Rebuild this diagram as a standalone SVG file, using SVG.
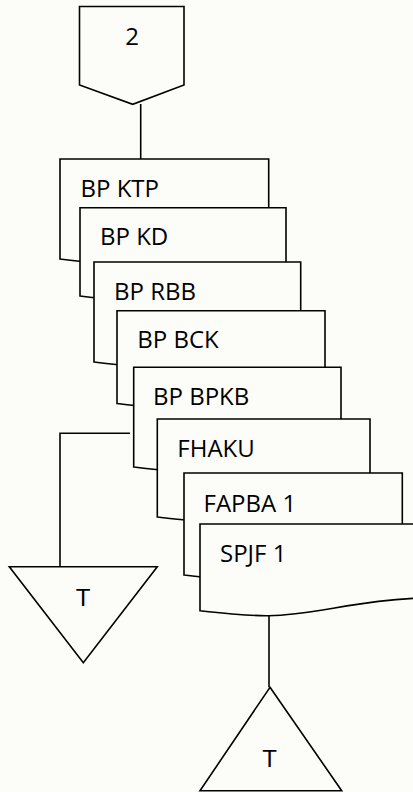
<svg xmlns="http://www.w3.org/2000/svg" width="413" height="792" viewBox="0 0 413 792">
  <defs>
    <style>
      .shape { fill: #fcfdf8; stroke: #000; stroke-width: 1.6; stroke-linejoin: miter; }
      .wire { fill: none; stroke: #000; stroke-width: 1.6; }
      .doc { font-family: "Open Sans", "Liberation Sans", sans-serif; font-size: 24px; fill: #000; }
      .tri { font-family: "Liberation Sans", Arial, sans-serif; font-size: 24px; fill: #000; text-anchor: middle; }
    </style>
  </defs>
  <rect x="0" y="0" width="413" height="792" fill="#fcfdf8"/>

  <!-- connectors -->
  <g id="connectors">
    <path class="wire" d="M140.7,104 V159"/>
    <path class="wire" d="M130,433.3 H60 V566.7"/>
    <path class="wire" d="M269,616 V687.3"/>
  </g>

  <!-- off-page connector "2" -->
  <g id="offpage-2">
    <path class="shape" d="M79.5,6.5 H184 V85 L132.7,104.3 L79.5,85 Z"/>
    <text class="doc" x="132" y="45" text-anchor="middle" font-size="25">2</text>
  </g>

  <!-- stacked documents, back to front -->
  <g id="doc-bp-ktp">
    <path class="shape" d="M60,159 H268.7 V246 C206.1,247 164.4,263.5 122.6,264 C105.9,264.5 85,262 60,259 Z"/>
    <text class="doc" x="80.5" y="196.7">BP KTP</text>
  </g>
  <g id="doc-bp-kd">
    <path class="shape" d="M80,207.7 H286 V283 C224.2,284 183,300.5 141.8,301 C125.3,301.5 104.7,299 80,296 Z"/>
    <text class="doc" x="100" y="244.5">BP KD</text>
  </g>
  <g id="doc-bp-rbb">
    <path class="shape" d="M94,262 H300.7 V349 C238.7,350 197.4,366.5 156,367 C139.5,367.5 118.8,365 94,362 Z"/>
    <text class="doc" x="114" y="300">BP RBB</text>
  </g>
  <g id="doc-bp-bck">
    <path class="shape" d="M117,310.7 H325 V390.5 C262.6,391.5 221,408 179.4,408.5 C162.8,409 142,406.5 117,403.5 Z"/>
    <text class="doc" x="137.3" y="348.3">BP BCK</text>
  </g>
  <g id="doc-bp-bpkb">
    <path class="shape" d="M133.7,367.3 H341 V454 C278.8,455 237.4,471.5 195.9,472 C179.3,472.5 158.6,470 133.7,467 Z"/>
    <text class="doc" x="153" y="405">BP BPKB</text>
  </g>
  <g id="doc-fhaku">
    <path class="shape" d="M157.3,419 H370 V504 C306.2,505 263.7,521.5 221.1,522 C204.1,522.5 182.8,520 157.3,517 Z"/>
    <text class="doc" x="177.3" y="456.7">FHAKU</text>
  </g>
  <g id="doc-fapba-1">
    <path class="shape" d="M184,473 H402.3 V562 C336.8,563 293.2,579.5 249.5,580 C232,580.5 210.2,578 184,575 Z"/>
    <text class="doc" x="203.5" y="511.5">FAPBA 1</text>
  </g>
  <g id="doc-spjf-1">
    <path class="shape" d="M200,524 H432 V597.7 C361,598.7 315,615.2 269,615.7 C250.6,616.2 227.6,613.7 200,610.7 Z"/>
    <text class="doc" x="220" y="561.7">SPJF 1</text>
  </g>

  <!-- terminators -->
  <g id="store-left">
    <path class="shape" d="M9.3,566.7 H157.3 L83.3,662.7 Z"/>
    <text class="tri" x="83" y="605.7">T</text>
  </g>
  <g id="store-bottom">
    <path class="shape" d="M270,687.3 L341.7,790.7 H200 Z"/>
    <text class="tri" x="269.5" y="766.7">T</text>
  </g>
</svg>
